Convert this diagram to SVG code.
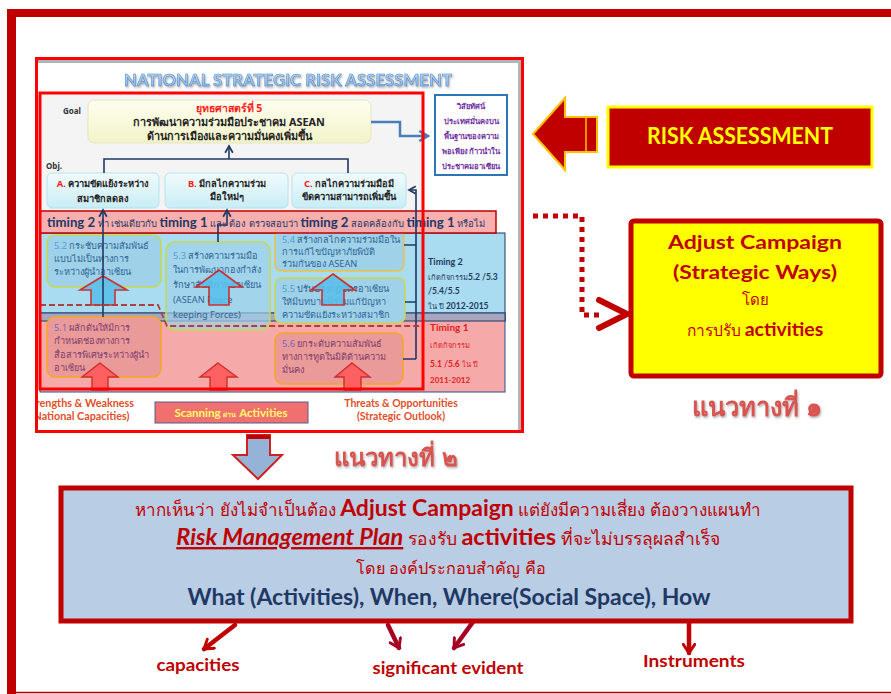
<svg xmlns="http://www.w3.org/2000/svg" width="891" height="694" viewBox="0 0 891 694">
<style>
.th{font-family:"Noto Sans","DejaVu Sans","Liberation Sans",sans-serif}
.cal{font-family:Lato,"Liberation Sans",sans-serif}
.b{font-weight:bold}
.obj{fill:url(#gCyan);stroke:#b7e3ee;stroke-width:1}
.blueTxt{fill:#2f6496;font-size:9.2px}
.pinkTxt{fill:#7b3f6a;font-size:9.2px}
.num{fill:#4f9fd8}
.numP{fill:#6a6ac0}
.nline{fill:none;stroke:#1f3864;stroke-width:1.6}
.bArrow{fill:#5bc0eb;stroke:#d02020;stroke-width:1.6;opacity:.9}
.pArrow{fill:#ff5a5a;stroke:#d02020;stroke-width:1.4;opacity:.9}
.outArrow{fill:none;stroke:#c00000;stroke-width:4.5;stroke-linecap:round;stroke-linejoin:round}
</style>
<defs>
<linearGradient id="gYel" x1="0" y1="0" x2="0" y2="1"><stop offset="0" stop-color="#fefef0"/><stop offset="1" stop-color="#f3f3c8"/></linearGradient>
<linearGradient id="gCyan" x1="0" y1="0" x2="0" y2="1"><stop offset="0" stop-color="#f0fbfd"/><stop offset="1" stop-color="#c9edf5"/></linearGradient>
<linearGradient id="gTitle" x1="0" y1="0" x2="0" y2="1"><stop offset="0" stop-color="#c9e2f7"/><stop offset="1" stop-color="#7fb2e5"/></linearGradient>
<filter id="sh" x="-5%" y="-20%" width="110%" height="150%"><feDropShadow dx="1" dy="1.5" stdDeviation="0.8" flood-color="#888" flood-opacity="0.7"/></filter>
<clipPath id="shot"><rect x="37" y="59" width="485" height="372"/></clipPath>
<marker id="navyHead" viewBox="0 0 10 10" refX="8" refY="5" markerWidth="6" markerHeight="6" orient="auto"><path d="M1,1 L8,5 L1,9" fill="none" stroke="#1f3864" stroke-width="1.8"/></marker>
<marker id="blueHead" viewBox="0 0 10 10" refX="8" refY="5" markerWidth="5" markerHeight="5" orient="auto"><path d="M1,1 L8,5 L1,9" fill="none" stroke="#4a7ebb" stroke-width="2"/></marker>
<marker id="chev" viewBox="0 0 10 10" refX="7" refY="5" markerWidth="3.2" markerHeight="3.2" orient="auto"><path d="M1,1 L7,5 L1,9" fill="none" stroke="#c00000" stroke-width="2" stroke-linecap="round" stroke-linejoin="round"/></marker>
<marker id="chev2" viewBox="0 0 10 10" refX="7" refY="5" markerWidth="3.2" markerHeight="3.2" orient="auto"><path d="M1,1 L7,5 L1,9" fill="none" stroke="#a50021" stroke-width="2" stroke-linecap="round" stroke-linejoin="round"/></marker>
</defs>

<rect width="891" height="694" fill="#ffffff"/>
<g id="frame">
<rect x="7" y="9" width="9" height="685" fill="#c00000"/>
<rect x="7" y="9" width="884" height="8" fill="#c00000"/>
<line x1="7" y1="692.5" x2="891" y2="692.5" stroke="#c00000" stroke-width="1.5"/>
</g>

<g id="screenshot">
<rect x="36" y="58" width="487" height="374" fill="#ffffff"/>
<g clip-path="url(#shot)">
<line x1="37" y1="61.5" x2="522" y2="61.5" stroke="#b0b4b8" stroke-width="3"/>
<line x1="519.5" y1="60" x2="519.5" y2="431" stroke="#b0b4b8" stroke-width="3"/>
<rect x="40" y="93" width="383" height="120" fill="#f4f4f4"/>
<rect x="40" y="233" width="465" height="88" fill="#a9dcf0" stroke="#1f3864" stroke-width="1"/>
<rect x="40" y="313" width="465" height="79" fill="#f5a9a9" stroke="#2f4f8f" stroke-width="1"/>
<rect x="40" y="313" width="465" height="8" fill="#a6a6bf" stroke="#1f3864" stroke-width="1"/>
</g>
<g id="title">
<text x="288" y="86" text-anchor="middle" class="cal b" font-size="17" textLength="328" lengthAdjust="spacingAndGlyphs" fill="url(#gTitle)" stroke="#4a86c8" stroke-width="0.5" filter="url(#sh)">NATIONAL STRATEGIC RISK  ASSESSMENT</text>
</g>
<g id="goal">
<text x="63" y="114" class="th b" font-size="8" fill="#333">Goal</text>
<rect x="88" y="100" width="283" height="43" rx="6" fill="url(#gYel)" stroke="#e3e6c0" stroke-width="1"/>
<text x="229" y="112" text-anchor="middle" class="th b" font-size="10.5" fill="#ff1a1a">ยุทธศาสตร์ที่ 5</text>
<text x="229" y="126" text-anchor="middle" class="th b" font-size="10.8" fill="#222">การพัฒนาความร่วมมือประชาคม ASEAN</text>
<text x="229" y="140" text-anchor="middle" class="th b" font-size="10.8" fill="#222">ด้านการเมืองและความมั่นคงเพิ่มขึ้น</text>
</g>
<g id="vision">
<rect x="435" y="95" width="72" height="80" fill="#ffffff" stroke="#2e75b6" stroke-width="2"/>
<g class="th b" font-size="7.6" fill="#7030a0" text-anchor="middle">
<text x="471" y="109">วิสัยทัศน์</text>
<text x="471" y="124">ประเทศมั่นคงบน</text>
<text x="471" y="139">พื้นฐานของความ</text>
<text x="471" y="154">พอเพียง ก้าวนำใน</text>
<text x="471" y="169">ประชาคมอาเซียน</text>
</g>
</g>
<text x="46" y="169" class="th b" font-size="8" fill="#333">Obj.</text>
<g id="objA">
<rect x="47" y="173" width="112" height="35" rx="5" class="obj"/>
<text x="103" y="187" text-anchor="middle" class="th b" font-size="9.3" fill="#222"><tspan fill="#ff1a1a">A.</tspan> ความขัดแย้งระหว่าง</text>
<text x="103" y="202" text-anchor="middle" class="th b" font-size="9.3" fill="#222">สมาชิกลดลง</text>
</g>
<g id="objB">
<rect x="165" y="173" width="123" height="35" rx="5" class="obj"/>
<text x="227" y="187" text-anchor="middle" class="th b" font-size="9.3" fill="#222"><tspan fill="#ff1a1a">B.</tspan> มีกลไกความร่วม</text>
<text x="227" y="200" text-anchor="middle" class="th b" font-size="9.3" fill="#222">มือใหม่ๆ</text>
</g>
<g id="objC">
<rect x="292" y="173" width="114" height="35" rx="5" class="obj"/>
<text x="349" y="187" text-anchor="middle" class="th b" font-size="9.3" fill="#222"><tspan fill="#ff1a1a">C.</tspan> กลไกความร่วมมือมี</text>
<text x="349" y="200" text-anchor="middle" class="th b" font-size="9.3" fill="#222">ขีดความสามารถเพิ่มขึ้น</text>
</g>

<g id="act54">
<rect x="275" y="220" width="129" height="51" rx="7" fill="#9fd2e8" stroke="#f0c040" stroke-width="1.5"/>
<text x="282" y="243" class="th blueTxt"><tspan class="num">5.4</tspan> สร้างกลไกความร่วมมือใน</text>
<text x="282" y="255" class="th blueTxt">การแก้ไขปัญหาภัยพิบัติ</text>
<text x="282" y="267" class="th blueTxt">ร่วมกันของ ASEAN</text>
</g>
<g id="timingBand">
<rect x="40" y="211" width="456" height="22" fill="#f7a9a9" fill-opacity="0.93" stroke="#c00000" stroke-width="1.5"/>
<text x="47" y="226.5" class="th" font-size="9.4" fill="#1f3864"><tspan class="cal b" font-size="13.2">timing 2</tspan> ทำ เช่นเดียวกับ <tspan class="cal b" font-size="13.2">timing 1</tspan> และ ต้อง ตรวจสอบว่า <tspan class="cal b" font-size="13.2">timing 2</tspan> สอดคล้องกับ <tspan class="cal b" font-size="13.2">timing 1</tspan> หรือไม่</text>
</g>
<g id="act52">
<rect x="47" y="235" width="114" height="52" rx="8" fill="#9fd2e8" stroke="#c8d84c" stroke-width="1.5"/>
<text x="54" y="249" class="th blueTxt"><tspan class="num">5.2</tspan> กระชับความสัมพันธ์</text>
<text x="54" y="262" class="th blueTxt">แบบไม่เป็นทางการ</text>
<text x="54" y="275" class="th blueTxt">ระหว่างผู้นำอาเซียน</text>
</g>
<g id="act53">
<rect x="166" y="242" width="104" height="88" rx="9" fill="#9fd2e8" fill-opacity="0.7" stroke="#c8d84c" stroke-width="1.5"/>
<text x="173" y="259" class="th blueTxt"><tspan class="num">5.3</tspan> สร้างความร่วมมือ</text>
<text x="173" y="273" class="th blueTxt">ในการพัฒนากองกำลัง</text>
<text x="173" y="288" class="th blueTxt">รักษาสันติภาพอาเซียน</text>
<text x="173" y="303" class="th blueTxt">(ASEAN Peace</text>
<text x="173" y="318" class="th blueTxt">keeping Forces)</text>
</g>
<g id="act55">
<rect x="275" y="278" width="130" height="45" rx="7" fill="#9fd2e8" stroke="#c8d84c" stroke-width="1.5"/>
<text x="282" y="292" class="th blueTxt"><tspan class="num">5.5</tspan> ปรับปรุงกฎบัตรอาเซียน</text>
<text x="282" y="305" class="th blueTxt">ให้มีบทบาทที่รวมแก้ปัญหา</text>
<text x="282" y="318" class="th blueTxt">ความขัดแย้งระหว่างสมาชิก</text>
</g>
<g id="act51">
<rect x="47" y="317" width="114" height="60" rx="8" fill="#eb9a9a" stroke="#f5a623" stroke-width="1.5"/>
<text x="54" y="331" class="th pinkTxt"><tspan class="numP">5.1</tspan> ผลักดันให้มีการ</text>
<text x="54" y="344" class="th pinkTxt">กำหนดช่องทางการ</text>
<text x="54" y="358" class="th pinkTxt">สื่อสารพิเศษระหว่างผู้นำ</text>
<text x="54" y="371" class="th pinkTxt">อาเซียน</text>
</g>
<g id="act56">
<rect x="275" y="333" width="128" height="51" rx="8" fill="#eb9a9a" stroke="#f5a623" stroke-width="1.5"/>
<text x="282" y="347" class="th pinkTxt"><tspan class="numP">5.6</tspan> ยกระดับความสัมพันธ์</text>
<text x="282" y="360" class="th pinkTxt">ทางการทูตในมิติด้านความ</text>
<text x="282" y="373" class="th pinkTxt">มั่นคง</text>
</g>
<g id="upArrows">
<path class="bArrow" d="M103,276 L127,290 L115,290 L115,305 L91,305 L91,290 L80,290 Z"/>
<path class="bArrow" d="M219,270 L242,287 L229,287 L229,305 L209,305 L209,287 L196,287 Z"/>
<path class="bArrow" d="M333,274 L355,290 L344,290 L344,305 L322,305 L322,290 L311,290 Z"/>
<path class="pArrow" d="M100,363 L118,377 L108,377 L108,390 L92,390 L92,377 L82,377 Z"/>
<path class="pArrow" d="M218,363 L237,377 L227,377 L227,390 L210,390 L210,377 L200,377 Z"/>
<path class="pArrow" d="M352,363 L370,377 L361,377 L361,390 L344,390 L344,377 L335,377 Z"/>
</g>
<g id="timingLabels">
<text x="428" y="265" class="cal b" font-size="9" fill="#1f3864">Timing 2</text>
<text x="428" y="280" class="th" font-size="7.5" fill="#1f3864">เกิดกิจกรรม<tspan class="cal b" font-size="8.5">5.2 /5.3</tspan></text>
<text x="428" y="294" class="cal b" font-size="8.5" fill="#1f3864">/5.4/5.5</text>
<text x="428" y="309" class="th" font-size="7.5" fill="#1f3864">ใน ปี <tspan class="cal b" font-size="8.5">2012-2015</tspan></text>
<text x="430" y="331" class="cal b" font-size="10" fill="#e02020">Timing 1</text>
<text x="430" y="348" class="th" font-size="7.5" fill="#e02020">เกิดกิจกรรม</text>
<text x="430" y="367" class="cal b" font-size="8.5" fill="#e02020">5.1 /5.6 <tspan class="th" font-weight="normal" font-size="7.5">ใน ปี</tspan></text>
<text x="430" y="383" class="cal b" font-size="8" fill="#e02020">2011-2012</text>
</g>
<g id="screenshotConnectors">
<path class="nline" d="M229,159 L229,146" marker-end="url(#navyHead)"/>
<path class="nline" d="M104,173 L104,159 L348,159 L348,173"/>
<path d="M371,122 L400,122 L400,136 L428,136" fill="none" stroke="#4a7ebb" stroke-width="2.5" marker-end="url(#blueHead)"/>
<path class="nline" d="M103,317 L103,210" marker-end="url(#navyHead)"/>
<path class="nline" d="M218,242 L218,225 L227,225 L227,210" marker-end="url(#navyHead)"/>
<path class="nline" d="M404,245 L416,245 M405,302 L416,302 M403,359 L416,359 M416,359 L416,190 L409,190" marker-end="url(#navyHead)"/>
<path d="M40,305 L158,305 L167,326 L423,326" fill="none" stroke="#b0403f" stroke-width="1.8" stroke-dasharray="6,3"/>
</g>
<rect x="40" y="93" width="383" height="296" fill="none" stroke="#ff0000" stroke-width="3"/>
<g id="bottomLabels" clip-path="url(#shot)">
<text x="80" y="407" text-anchor="middle" class="cal b" font-size="10.8" fill="#e0502a">Strengths &amp; Weakness</text>
<text x="80" y="420" text-anchor="middle" class="cal b" font-size="10.8" fill="#e0502a">(National Capacities)</text>
<rect x="155" y="402" width="153" height="21" fill="#f07070" stroke="#5a5a8a" stroke-width="1"/>
<text x="231" y="416.5" text-anchor="middle" class="cal b" font-size="11.5" fill="#ffff66">Scanning <tspan class="th" font-size="7">ผ่าน</tspan> Activities</text>
<text x="401" y="407" text-anchor="middle" class="cal b" font-size="10.5" fill="#e0502a">Threats &amp; Opportunities</text>
<text x="401" y="420" text-anchor="middle" class="cal b" font-size="10.5" fill="#e0502a">(Strategic Outlook)</text>
</g>
<rect x="36.5" y="58.5" width="486" height="373" fill="none" stroke="#ff0000" stroke-width="3"/>
</g>

<g id="riskArrow">
<path d="M533,134 L565,98 L565,117 L597,117 L597,152 L565,152 L565,170 Z" fill="#c00000" stroke="#ffc000" stroke-width="2"/>
<line x1="586" y1="118" x2="586" y2="151" stroke="#ffc000" stroke-width="1.5"/>
</g>
<g id="riskAssessment">
<rect x="608" y="107" width="264" height="60" fill="#c00000" stroke="#ffff00" stroke-width="3"/>
<text x="740" y="144" text-anchor="middle" class="cal b" font-size="22" textLength="186" lengthAdjust="spacingAndGlyphs" fill="#ffff00">RISK ASSESSMENT</text>
</g>
<g id="adjustCampaign">
<rect x="631" y="221" width="250" height="155" rx="3" fill="#ffff00" stroke="#c00000" stroke-width="5"/>
<text x="755" y="249" text-anchor="middle" class="cal b" font-size="19" textLength="174" lengthAdjust="spacingAndGlyphs" fill="#c00000">Adjust Campaign</text>
<text x="755" y="279" text-anchor="middle" class="cal b" font-size="19" textLength="164" lengthAdjust="spacingAndGlyphs" fill="#c00000">(Strategic Ways)</text>
<text x="755" y="305" text-anchor="middle" class="th" font-size="15" fill="#c00000">โดย</text>
<text x="755" y="336" text-anchor="middle" class="th" font-size="15.5" fill="#c00000">การปรับ <tspan class="cal b" font-size="19.5">activities</tspan></text>
</g>
<text id="way1" x="757" y="416" text-anchor="middle" class="th b" font-size="25.5" fill="#d9534f" filter="url(#sh)">แนวทางที่ ๑</text>

<g id="connectors">
<path d="M533,216 L582,216 L582,315 L604,315" fill="none" stroke="#c00000" stroke-width="5" stroke-dasharray="5,5"/>
<path d="M599,300 L627,314 L599,328" fill="none" stroke="#c00000" stroke-width="6" stroke-linecap="round" stroke-linejoin="round"/>
<path class="outArrow" d="M235,625 L204,649" marker-end="url(#chev)"/>
<path d="M388,625 L399,648" fill="none" stroke="#a50021" stroke-width="4.5" stroke-linecap="round" marker-end="url(#chev2)"/>
<path d="M478,615 L454,648" fill="none" stroke="#a50021" stroke-width="4.5" stroke-linecap="round" marker-end="url(#chev2)"/>
<path class="outArrow" d="M689,622 L689,653" marker-end="url(#chev)"/>
</g>

<g id="downArrow">
<path d="M247,435 L270,435 L270,455 L282,455 L258,479 L233,455 L247,455 Z" fill="#95b3d7" stroke="#d02020" stroke-width="2"/>
<rect x="247" y="435" width="23" height="4" fill="#c00000"/>
</g>
<text id="way2" x="396" y="466" text-anchor="middle" class="th b" font-size="24" fill="#d9534f" filter="url(#sh)">แนวทางที่ ๒</text>

<g id="riskPlan">
<rect x="61" y="488" width="790" height="133" fill="#b9cde5" stroke="#c00000" stroke-width="5"/>
<text x="448" y="516" text-anchor="middle" class="th" font-size="17" fill="#c00000">หากเห็นว่า ยังไม่จำเป็นต้อง <tspan class="cal b" font-size="23">Adjust Campaign</tspan> แต่ยังมีความเสี่ยง  ต้องวางแผนทำ</text>
<text x="448" y="545" text-anchor="middle" class="th" font-size="17.5" fill="#c00000"><tspan class="cal b" font-style="italic" font-size="23.5" text-decoration="underline">Risk Management Plan</tspan> รองรับ <tspan class="cal b" font-size="23.5">activities</tspan> ที่จะไม่บรรลุผลสำเร็จ</text>
<text x="451" y="574" text-anchor="middle" class="th" font-size="16.2" fill="#c00000">โดย องค์ประกอบสำคัญ คือ</text>
<text x="449" y="605" text-anchor="middle" class="cal b" font-size="23" fill="#1f3864">What (Activities), When, Where(Social Space), How</text>
</g>
<g id="outcomes" class="cal b" fill="#c00000">
<text x="198" y="671" text-anchor="middle" font-size="17" textLength="83" lengthAdjust="spacingAndGlyphs">capacities</text>
<text x="448" y="674" text-anchor="middle" font-size="17" textLength="151" lengthAdjust="spacingAndGlyphs">significant evident</text>
<text x="694" y="667" text-anchor="middle" font-size="17" textLength="102" lengthAdjust="spacingAndGlyphs">Instruments</text>
</g>
</svg>
